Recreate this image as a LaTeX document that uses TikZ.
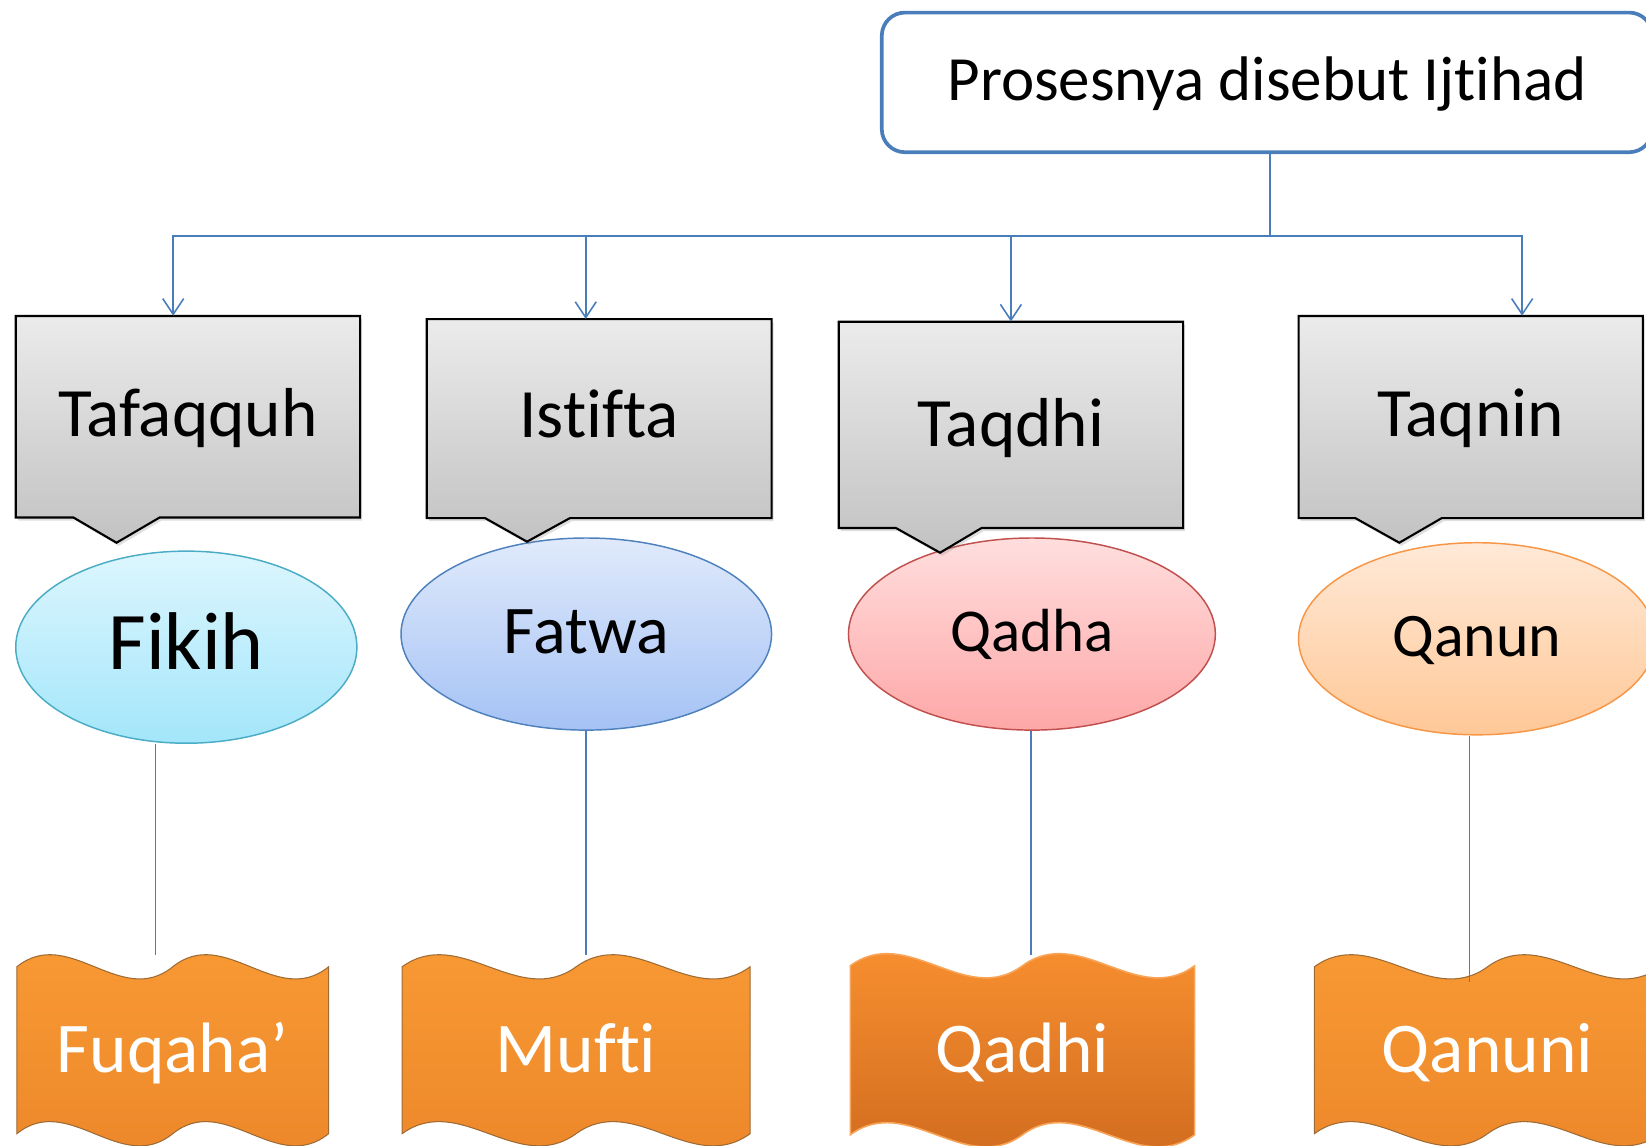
\documentclass[tikz,border=0pt]{standalone}
\usepackage{fontspec}
\setmainfont[Ligatures={NoCommon}]{Carlito}
\usetikzlibrary{arrows.meta,shapes.geometric,shadows}

\definecolor{linkblue}{HTML}{4A7EBB}
\definecolor{calloutTop}{HTML}{EBEBEB}
\definecolor{calloutBot}{HTML}{C2C2C2}
\definecolor{fikihEdge}{HTML}{4BACC6}
\definecolor{fikihTop}{HTML}{DDF6FE}
\definecolor{fikihBot}{HTML}{A3E6FA}
\definecolor{fatwaEdge}{HTML}{4F81BD}
\definecolor{fatwaTop}{HTML}{E0EAFB}
\definecolor{fatwaBot}{HTML}{A5C2F5}
\definecolor{qadhaEdge}{HTML}{C0504D}
\definecolor{qadhaTop}{HTML}{FFDEDE}
\definecolor{qadhaBot}{HTML}{FEA7A7}
\definecolor{qanunEdge}{HTML}{F79646}
\definecolor{qanunTop}{HTML}{FFE9D7}
\definecolor{qanunBot}{HTML}{FFC897}
\definecolor{waveTop}{HTML}{F99B35}
\definecolor{waveBot}{HTML}{EC8629}
\definecolor{waveEdge}{HTML}{9E6B35}
\definecolor{qadhiTop}{HTML}{FB9331}
\definecolor{qadhiBot}{HTML}{CE691E}
\definecolor{qadhiEdge}{HTML}{F8A559}

% double-wave outline: #1 left, #2 right, #3 top line, #4 bottom line
\newcommand\wavepath[4]{%
  (#1,#3) .. controls ({#1+(#2-#1)/6},{#3-40}) and ({#1+(#2-#1)/3},{#3+40}) .. ({(#1+#2)/2},#3)
  .. controls ({#1+2*(#2-#1)/3},{#3-40}) and ({#1+5*(#2-#1)/6},{#3+40}) .. (#2,#3)
  -- (#2,#4)
  .. controls ({#1+5*(#2-#1)/6},{#4+40}) and ({#1+2*(#2-#1)/3},{#4-40}) .. ({(#1+#2)/2},#4)
  .. controls ({#1+(#2-#1)/3},{#4+40}) and ({#1+(#2-#1)/6},{#4-40}) .. (#1,#4) -- cycle}

\begin{document}
\begin{tikzpicture}[x=1pt,y=-1pt,
  link/.style={draw=linkblue, line width=1.5pt},
  arrowlink/.style={link, -{Straight Barb[length=15pt,width=20pt]}},
  topbox/.style={draw=linkblue, line width=3.5pt, rounded corners=22pt, fill=white,
    minimum width=734pt, minimum height=133pt, inner sep=0pt,
    font=\fontsize{60}{64}\selectfont, text height=35pt, text depth=0pt},
  callout/.style={draw=black, line width=2pt, top color=calloutTop, bottom color=calloutBot,
    drop shadow={opacity=0.25, shadow xshift=2pt, shadow yshift=-3pt}},
  calltext/.style={inner sep=0pt, font=\fontsize{66}{70}\selectfont, text depth=0pt},
  oval/.style={ellipse, inner sep=0pt, line width=1.4pt, minimum height=183pt, text depth=0pt},
  wavebox/.style={draw=waveEdge, line width=1pt, top color=waveTop, bottom color=waveBot},
  wavedark/.style={draw=qadhiEdge, line width=1.5pt, top color=qadhiTop, bottom color=qadhiBot},
  wavetext/.style={text=white, inner sep=0pt, font=\fontsize{68}{72}\selectfont,
    minimum height=180pt, text height=44pt, text depth=0pt}
]
\useasboundingbox (0,0) rectangle (1568,1091);

% ---- result ovals ----
\node[oval, draw=fikihEdge, top color=fikihTop, bottom color=fikihBot, minimum width=325pt,
  font=\fontsize{78}{80}\selectfont, text height=43pt] (fikih) at (177.5,616.5) {Fikih};
\node[oval, draw=fatwaEdge, top color=fatwaTop, bottom color=fatwaBot, minimum width=353pt,
  font=\fontsize{65}{68}\selectfont, text height=38pt] (fatwa) at (558.5,604) {Fatwa};
\node[oval, draw=qadhaEdge, top color=qadhaTop, bottom color=qadhaBot, minimum width=349.5pt,
  font=\fontsize{58}{62}\selectfont, text height=34pt] (qadha) at (983,604) {Qadha};
\node[oval, draw=qanunEdge, top color=qanunTop, bottom color=qanunBot, minimum width=340pt,
  font=\fontsize{59}{62}\selectfont, text height=33pt] (qanun) at (1407,608.5) {Qanun};

% ---- process callouts ----
\path[callout] (15,301) -- (343,301) -- (343,493) -- (152,493) -- (111,517) -- (70,493) -- (15,493) -- cycle;
\path[callout] (406.5,304) -- (735,304) -- (735,493.5) -- (543,493.5) -- (502,516) -- (462,493.5) -- (406.5,493.5) -- cycle;
\path[callout] (799,306.5) -- (1127,306.5) -- (1127,503) -- (935,503) -- (895.5,526.5) -- (853.5,503) -- (799,503) -- cycle;
\path[callout] (1237,301) -- (1565,301) -- (1565,493.5) -- (1373.5,493.5) -- (1333,517) -- (1291,493.5) -- (1237,493.5) -- cycle;

\node[calltext, minimum width=328pt, minimum height=192pt, text height=38pt] (taf) at (179,397) {Tafaqquh};
\node[calltext, minimum width=328.5pt, minimum height=189.5pt, text height=36.5pt] (ist) at (570.75,398.75) {Istifta};
\node[calltext, minimum width=328pt, minimum height=196.5pt, text height=40.5pt] (taq) at (963,404.75) {Taqdhi};
\node[calltext, minimum width=328pt, minimum height=192.5pt, text height=37.5pt] (tqn) at (1401,397.25) {Taqnin};

% ---- actors (wave banners) ----
\path[wavebox] \wavepath{16}{313}{921}{1080};
\path[wavebox] \wavepath{383}{714.5}{921}{1080};
\path[wavedark] \wavepath{810}{1138}{920}{1081};
\path[wavebox] \wavepath{1252}{1582}{921}{1080};

\node[wavetext, minimum width=297pt] (fuq) at (164.5,1000) {Fuqaha’};
\node[wavetext, minimum width=331.5pt] (muf) at (548.75,1000) {Mufti};
\node[wavetext, minimum width=328pt] (qdh) at (974,1000) {Qadhi};
\node[wavetext, minimum width=330pt] (qnn) at (1417,1000) {Qanuni};

% ---- head box ----
\node[topbox] (top) at (1207,78.5) {Prosesnya disebut Ijtihad};

% ---- connectors ----
\coordinate (bus) at (1210,225);
\draw[link] ([xshift=3pt]top.south) -- (bus);
\draw[arrowlink] (bus) -| ([xshift=-14pt]taf.north);
\draw[arrowlink] (bus) -| ([xshift=-12.75pt]ist.north);
\draw[arrowlink] (bus) -| (taq.north);
\draw[arrowlink] (bus) -| ([xshift=49pt]tqn.north);

\draw[link] ([xshift=-29.5pt]fikih.south) -- ([xshift=-16.5pt]fuq.north);
\draw[link] ([xshift=-0.5pt]fatwa.south) -- ([xshift=9.25pt]muf.north);
\draw[link] ([xshift=-1pt]qadha.south) -- ([xshift=8pt]qdh.north);
\draw[link] ([xshift=-7pt]qanun.south) -- ([xshift=-17pt,yshift=-26pt]qnn.north);
\end{tikzpicture}
\end{document}
